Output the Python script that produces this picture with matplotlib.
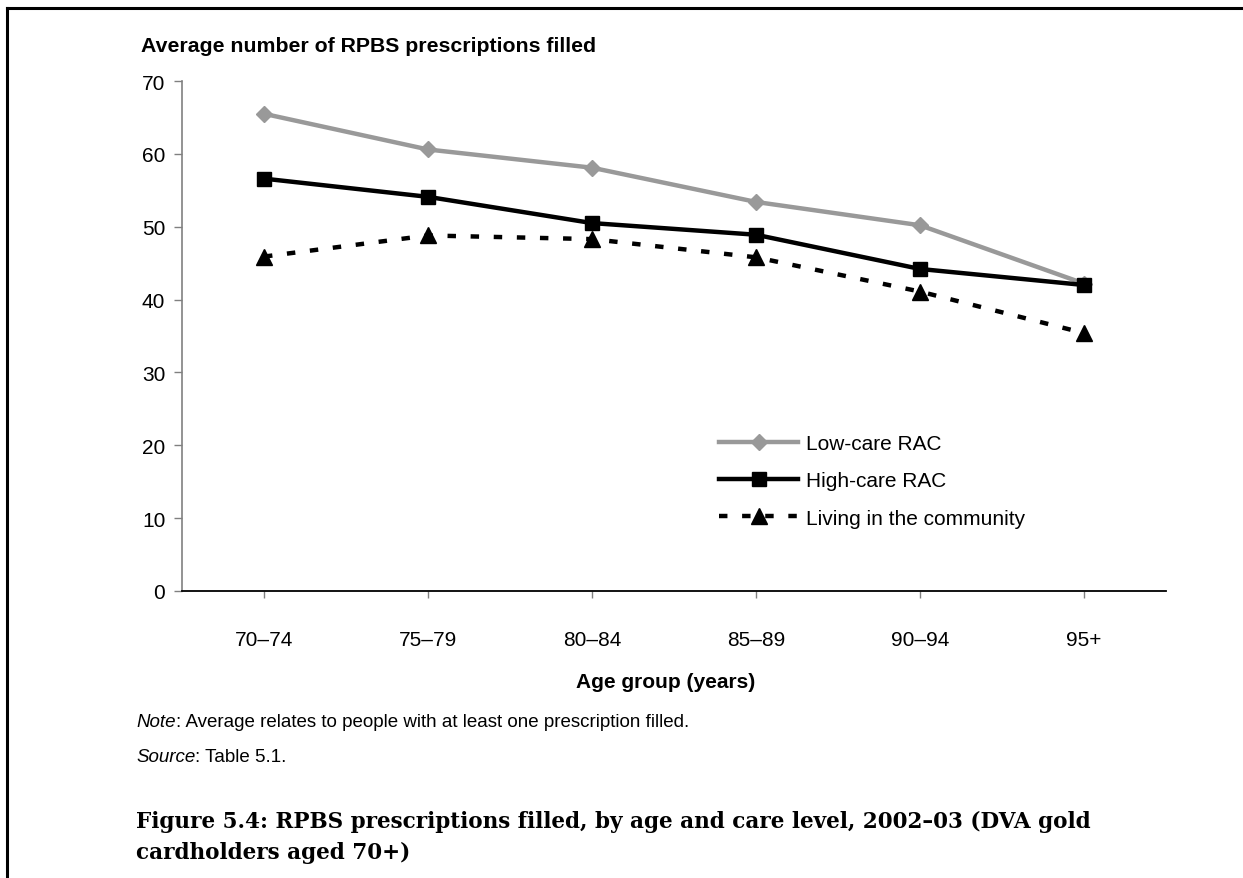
import matplotlib.pyplot as plt
from matplotlib.lines import Line2D

# data
age_groups = ['70–74', '75–79', '80–84', '85–89', '90–94', '95+']
low_care = [65.5, 60.6, 58.1, 53.4, 50.2, 42.2]
high_care = [56.6, 54.1, 50.5, 48.9, 44.2, 42.0]
community = [45.9, 48.8, 48.3, 45.8, 41.1, 35.4]

W, H = 1243, 879
fig = plt.figure(figsize=(W / 100, H / 100), dpi=100)
plt.rcParams['font.family'] = ['Liberation Sans', 'DejaVu Sans']

# axes box in pixel terms
left, right, top, bottom = 182, 1166, 82, 592
ax = fig.add_axes([left / W, 1 - bottom / H, (right - left) / W, (bottom - top) / H])

x = list(range(len(age_groups)))
ax.plot(x, low_care, color='#999999', lw=3.2, marker='D', ms=8,
        label='Low-care RAC')
ax.plot(x, high_care, color='black', lw=3.2, marker='s', ms=10,
        label='High-care RAC')
ax.plot(x, community, color='black', lw=3.2, marker='^', ms=11,
        dashes=(1.9, 3.3), label='Living in the community')

ax.set_xlim(-0.5, len(age_groups) - 0.5)
ax.set_ylim(0, 70)
ax.set_yticks(range(0, 71, 10))
ax.set_xticks(x)
ax.set_xticklabels(age_groups)

for s in ['top', 'right']:
    ax.spines[s].set_visible(False)
ax.spines['left'].set_color('#808080')
ax.spines['left'].set_linewidth(1.2)
ax.spines['bottom'].set_color('black')
ax.spines['bottom'].set_linewidth(1.3)
ax.tick_params(axis='y', length=6, width=1, color='#808080', labelsize=15, pad=6)
ax.tick_params(axis='x', length=5, width=1, color='#808080', labelsize=15, pad=23)

ax.legend(loc='upper left', bbox_to_anchor=(719 / W, 1 - 435 / H),
          bbox_transform=fig.transFigure, frameon=False, fontsize=15,
          handlelength=3.8, handletextpad=0.4, labelspacing=0.88,
          borderpad=0, borderaxespad=0)

fig.text(141 / W, 1 - 47 / H, 'Average number of RPBS prescriptions filled',
         fontsize=15.3, fontweight='bold', va='center', ha='left')
fig.text(666 / W, 1 - 683 / H, 'Age group (years)', fontsize=15,
         fontweight='bold', va='center', ha='center')

# note and source lines: italic lead word, then plain text
renderer = fig.canvas.get_renderer()
for ypix, lead, rest in [(723, 'Note', ': Average relates to people with at least one prescription filled.'),
                         (758, 'Source', ': Table 5.1.')]:
    t = fig.text(136 / W, 1 - ypix / H, lead, fontsize=13.5, style='italic',
                 va='center', ha='left')
    w = t.get_window_extent(renderer).width
    fig.text((136 + w) / W, 1 - ypix / H, rest, fontsize=13.5, va='center', ha='left')

fig.text(136 / W, 1 - 822 / H,
         'Figure 5.4: RPBS prescriptions filled, by age and care level, 2002–03 (DVA gold',
         fontsize=15.5, fontweight='bold', family='DejaVu Serif', va='center', ha='left')
fig.text(136 / W, 1 - 853 / H, 'cardholders aged 70+)',
         fontsize=15.5, fontweight='bold', family='DejaVu Serif', va='center', ha='left')

# page border: top and left edges
fig.add_artist(Line2D([7 / W, 1], [1 - 9 / H, 1 - 9 / H], color='black', lw=2.2,
                      transform=fig.transFigure))
fig.add_artist(Line2D([7 / W, 7 / W], [0, 1 - 9 / H], color='black', lw=2.2,
                      transform=fig.transFigure))

fig.savefig('out.png', dpi=100)
